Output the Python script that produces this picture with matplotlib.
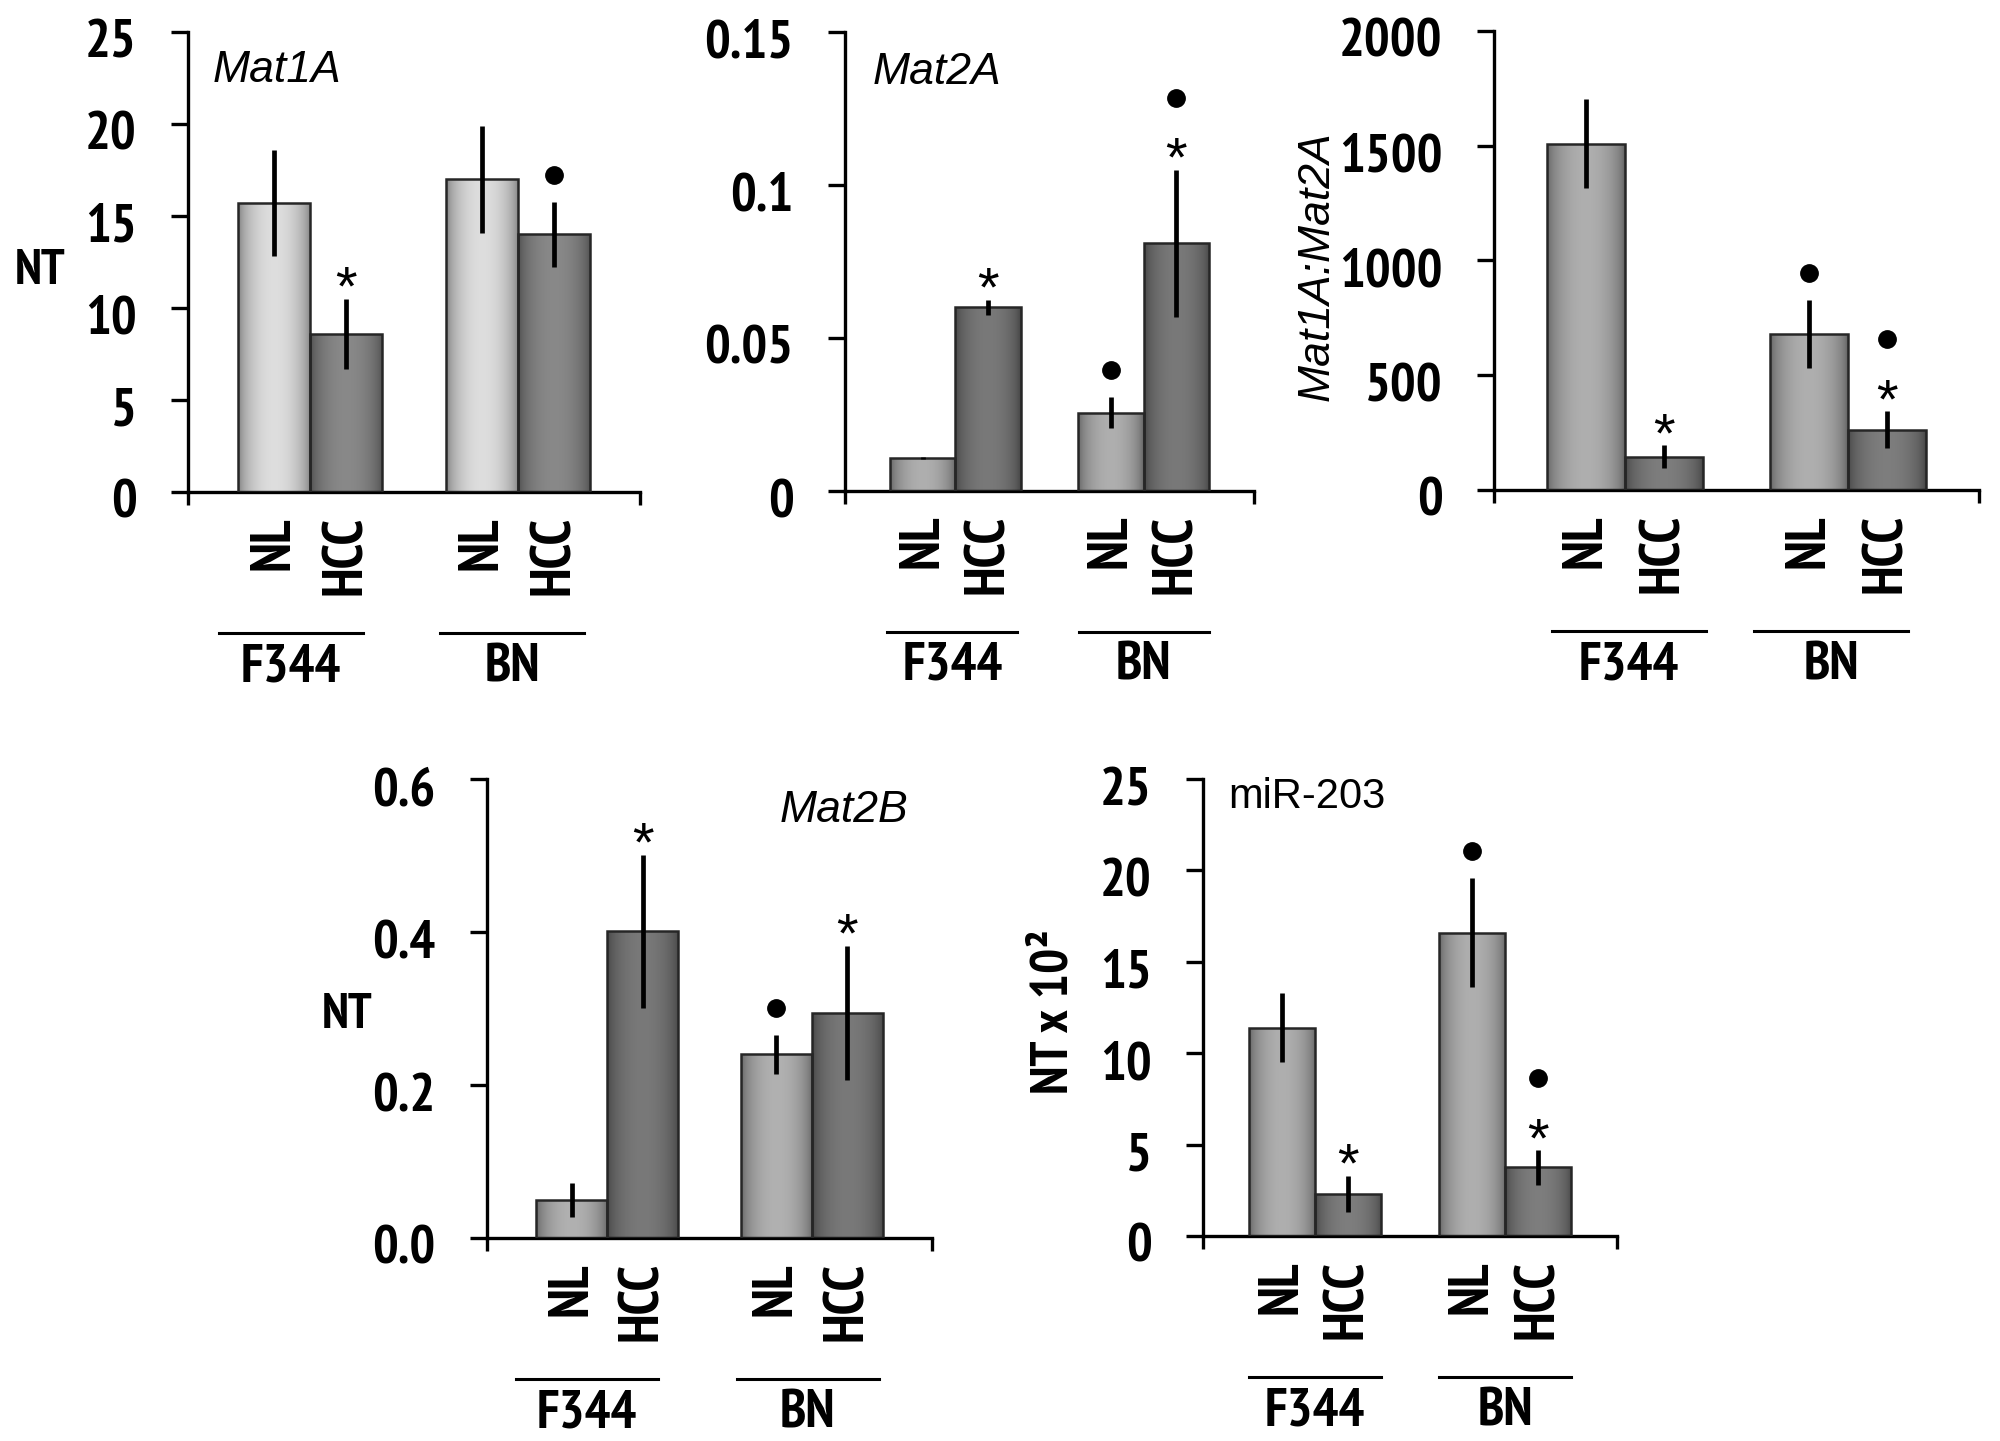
import os
import numpy as np
import matplotlib
matplotlib.use("Agg")
import matplotlib.pyplot as plt
from matplotlib import font_manager as fm
from matplotlib.colors import to_rgb
from matplotlib.transforms import ScaledTranslation, blended_transform_factory

plt.rcParams['font.family'] = ['Liberation Sans', 'DejaVu Sans']

# ---------------- data ----------------
groups = ["F344", "BN"]
conditions = ["NL", "HCC"]

mat1a_vals = [15.7, 8.6, 17.0, 14.0]
mat1a_err = [2.9, 1.9, 2.9, 1.75]
mat1a_ticks = [0, 5, 10, 15, 20, 25]
mat1a_ticklabels = ["0", "5", "10", "15", "20", "25"]
mat1a_marks = [[], ["*"], [], ["dot"]]

mat2a_vals = [0.0108, 0.0600, 0.0256, 0.0810]
mat2a_err = [0.0004, 0.0025, 0.0050, 0.0240]
mat2a_ticks = [0, 0.05, 0.10, 0.15]
mat2a_ticklabels = ["0", "0.05", "0.1", "0.15"]
mat2a_marks = [[], ["*"], ["dot"], ["*", "dot"]]

ratio_vals = [1509, 144, 680, 263]
ratio_err = [195, 50, 150, 80]
ratio_ticks = [0, 500, 1000, 1500, 2000]
ratio_ticklabels = ["0", "500", "1000", "1500", "2000"]
ratio_marks = [[], ["*"], ["dot"], ["*", "dot"]]

mat2b_vals = [0.050, 0.401, 0.240, 0.294]
mat2b_err = [0.022, 0.100, 0.026, 0.088]
mat2b_ticks = [0, 0.2, 0.4, 0.6]
mat2b_ticklabels = ["0.0", "0.2", "0.4", "0.6"]
mat2b_marks = [[], ["*"], ["dot"], ["*"]]

mir203_vals = [11.4, 2.3, 16.6, 3.75]
mir203_err = [1.9, 1.0, 3.0, 0.95]
mir203_ticks = [0, 5, 10, 15, 20, 25]
mir203_ticklabels = ["0", "5", "10", "15", "20", "25"]
mir203_marks = [[], ["*"], ["dot"], ["*", "dot"]]


# ---------------- fonts ----------------
def find_narrow_bold():
    best = None
    for f in fm.fontManager.ttflist:
        fn = os.path.basename(f.fname).lower()
        nm = f.name.lower()
        w = f.weight
        if isinstance(w, str):
            w = fm.weight_dict.get(w, 400)
        if w < 600 or f.style != 'normal':
            continue
        if 'narrow' in fn or 'narrow' in nm:
            if 'liberation' in fn or 'arial' in fn or 'liberation' in nm or 'arial' in nm:
                return f.fname
            best = best or f.fname
    return best


narrow_file = find_narrow_bold()
if narrow_file:
    BOLD = dict(fontproperties=None)
    def bold_kw(size):
        return dict(fontproperties=fm.FontProperties(fname=narrow_file, size=size))
    S_TICK, S_CAT, S_GRP, S_NT, S_NT2 = 39, 40, 39, 36, 38
else:
    def bold_kw(size):
        return dict(fontproperties=fm.FontProperties(family=['Liberation Sans', 'DejaVu Sans'],
                                                     weight='bold', size=size))
    S_TICK, S_CAT, S_GRP, S_NT, S_NT2 = 31, 32, 32, 30, 32

# ---------------- layout ----------------
W, H = 2000, 1441
DPI = 100
fig = plt.figure(figsize=(W / DPI, H / DPI), dpi=DPI)
PT = 72.0 / DPI  # points per pixel

group_centers = [0.54, 1.46]
bw = 0.32


def shade(ax, patch, base):
    x, w, h = patch.get_x(), patch.get_width(), patch.get_height()
    n = 80
    t = np.linspace(0, 1, n)
    prof = 0.58 + 0.54 * np.sin(np.pi * t) ** 0.5
    rgb = np.clip(np.array(to_rgb(base))[None, :] * prof[:, None], 0, 1)
    img = np.repeat(rgb[None, :, :], 2, axis=0)
    im = ax.imshow(img, extent=(x, x + w, 0, h), aspect='auto', zorder=2.1,
                   interpolation='bilinear', origin='lower')
    im.set_clip_path(patch)


def draw_panel(rect, vals, errs, ticks, ticklabels, marks, nl_color, hcc_color, line_shift):
    l, t, r, b = rect
    ax = fig.add_axes([l / W, 1 - b / H, (r - l) / W, (b - t) / H])
    xs = []
    for g in group_centers:
        xs += [g - bw / 2, g + bw / 2]
    colors = [nl_color, hcc_color, nl_color, hcc_color]
    bars = ax.bar(xs, vals, width=bw, color=colors, zorder=2, linewidth=0)
    for p, c in zip(bars, colors):
        shade(ax, p, c)
    ax.bar(xs, vals, width=bw, fill=False, edgecolor='#262626', linewidth=1.8, zorder=3)
    lo = [v - e for v, e in zip(vals, errs)]
    hi = [v + e for v, e in zip(vals, errs)]
    ax.vlines(xs, lo, hi, color='black', linewidth=3.4, zorder=4)

    # significance marks
    for x, top, mk in zip(xs, hi, marks):
        for k, m in enumerate(mk):
            off_px = 27 if k == 0 else 72
            if m == "*":
                ax.annotate("*", xy=(x, top), xytext=(0, (off_px - 33) * PT),
                            textcoords='offset points', ha='center', va='baseline',
                            fontsize=40, zorder=5, annotation_clip=False)
            else:
                ax.plot([x], [top], marker='o', markersize=12.5, color='black',
                        transform=ax.transData + ScaledTranslation(0, off_px / DPI, fig.dpi_scale_trans),
                        clip_on=False, zorder=5)

    ax.set_xlim(0, 2)
    ax.set_ylim(0, ticks[-1])
    ax.set_yticks(ticks)
    ax.set_yticklabels(ticklabels, **bold_kw(S_TICK))
    ax.set_xticks([0, 2])
    ax.set_xticklabels([])
    ax.tick_params(axis='y', direction='out', length=12, width=2.4, pad=25)
    ax.tick_params(axis='x', direction='out', length=9.5, width=2.4)
    shift = ScaledTranslation(0, -7 / DPI, fig.dpi_scale_trans)
    for lab in ax.get_yticklabels():
        lab.set_transform(lab.get_transform() + shift)
    for s in ['top', 'right']:
        ax.spines[s].set_visible(False)
    for s in ['left', 'bottom']:
        ax.spines[s].set_linewidth(2.4)

    # category labels
    for x, c in zip(xs, conditions * 2):
        ax.annotate(c, xy=(x, 0), xytext=(0, -24 * PT), textcoords='offset points',
                    rotation=90, ha='center', va='top', annotation_clip=False,
                    **bold_kw(S_CAT))
    hpx = b - t
    upx = (r - l) / 2.0  # pixels per data unit
    trans = blended_transform_factory(ax.transData, ax.transAxes)
    for g, name, sh in zip(group_centers, groups, line_shift):
        gc = g + sh / upx
        ax.plot([gc - 0.318, gc + 0.318], [-141 / hpx, -141 / hpx], transform=trans,
                color='black', linewidth=2.2, clip_on=False)
        ax.annotate(name, xy=(gc, 0), xytext=(0, -151 * PT), textcoords='offset points',
                    ha='center', va='top', annotation_clip=False, **bold_kw(S_GRP))
    return ax


draw_panel((188, 32, 640, 492), mat1a_vals, mat1a_err, mat1a_ticks, mat1a_ticklabels,
           mat1a_marks, '#c6c6c6', '#7a7a7a', (-19, -6))
draw_panel((845, 32, 1254, 491), mat2a_vals, mat2a_err, mat2a_ticks, mat2a_ticklabels,
           mat2a_marks, '#9c9c9c', '#6c6c6c', (-3, 0))
draw_panel((1494, 31, 1979, 490), ratio_vals, ratio_err, ratio_ticks, ratio_ticklabels,
           ratio_marks, '#9c9c9c', '#707070', (4, -17))
draw_panel((487, 779, 932, 1238), mat2b_vals, mat2b_err, mat2b_ticks, mat2b_ticklabels,
           mat2b_marks, '#9e9e9e', '#6c6c6c', (-20, -4))
draw_panel((1203, 779, 1617, 1236), mir203_vals, mir203_err, mir203_ticks, mir203_ticklabels,
           mir203_marks, '#9c9c9c', '#707070', (0, 0))


def ftext(px, py, s, **kw):
    fig.text(px / W, 1 - py / H, s, **kw)


ftext(213, 71, "Mat1A", style='italic', fontsize=32, ha='left', va='center')
ftext(873, 73, "Mat2A", style='italic', fontsize=32, ha='left', va='center')
ftext(908, 810, "Mat2B", style='italic', fontsize=32, ha='right', va='center')
ftext(1228, 797, "miR-203", fontsize=30, ha='left', va='center')
ftext(40, 271, "NT", ha='center', va='center', **bold_kw(S_NT))
ftext(347, 1016, "NT", ha='center', va='center', **bold_kw(S_NT))
ftext(1317, 266, "Mat1A:Mat2A", style='italic', fontsize=32, rotation=90,
      ha='center', va='center')
ftext(1054, 1012, "NT x 10²", rotation=90, ha='center', va='center', **bold_kw(S_NT2))

fig.savefig("out.png", dpi=DPI, facecolor='white')
